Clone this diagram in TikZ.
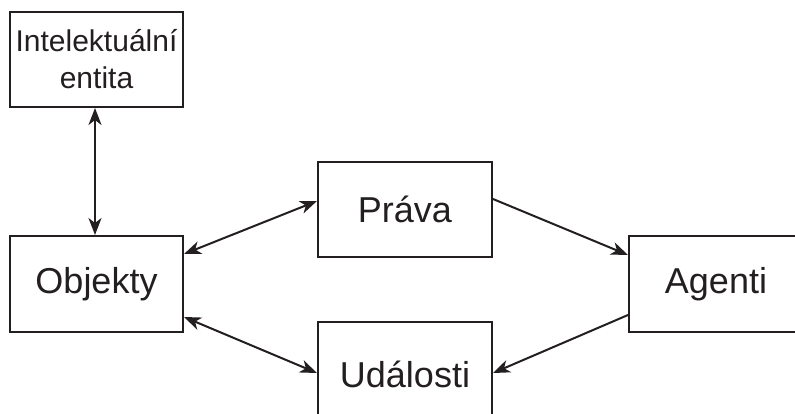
\documentclass[tikz,border=0pt]{standalone}
\usepackage{fontspec}
\setmainfont{Liberation Sans}
\usetikzlibrary{arrows.meta}
\definecolor{ink}{HTML}{231F20}
\begin{document}
\begin{tikzpicture}[x=1pt,y=-1pt,
  box/.style={draw=ink,line width=2pt,text=ink,inner sep=0pt,
    minimum width=173pt,minimum height=95pt,font=\fontsize{36}{43}\selectfont},
  tip/.style={Stealth[length=17pt,width=13pt,inset=5pt]},
  link/.style={draw=ink,line width=2pt,-{Stealth[length=17pt,width=13pt,inset=5pt]}},
  dlink/.style={draw=ink,line width=2pt,{Stealth[length=17pt,width=13pt,inset=5pt]}-{Stealth[length=17pt,width=13pt,inset=5pt]}}]
\useasboundingbox (0,0) rectangle (795,414);
\clip (0,0) rectangle (795,414);
\node[box,align=center,font=\fontsize{30}{37}\selectfont] (int) at (96.5,59.5) {Intelektuální\\entita};
\node[box,minimum height=96pt] (obj) at (96.5,284) {Objekty};
\node[box,minimum width=174pt] (pra) at (405,209.5) {Práva};
\node[box,minimum width=174pt,minimum height=104pt] (uda) at (405,374) {Události};
\node[box,minimum height=96pt] (age) at (628,284) [anchor=west,minimum width=190pt] {\hspace*{-16pt}Agenti};
\draw[dlink] ([xshift=-1.5pt]int.south) -- ([xshift=-1.5pt]obj.north);
\draw[dlink] ([yshift=30pt]obj.east) -- ([yshift=8.5pt]pra.west);
\draw[dlink] ([yshift=-33pt]obj.east) -- ([yshift=1pt]uda.west);
\draw[link] ([yshift=10.5pt]pra.east) -- ([yshift=29pt]age.west);
\draw[link] ([yshift=-31pt]age.west) -- ([yshift=1pt]uda.east);
\end{tikzpicture}
\end{document}
